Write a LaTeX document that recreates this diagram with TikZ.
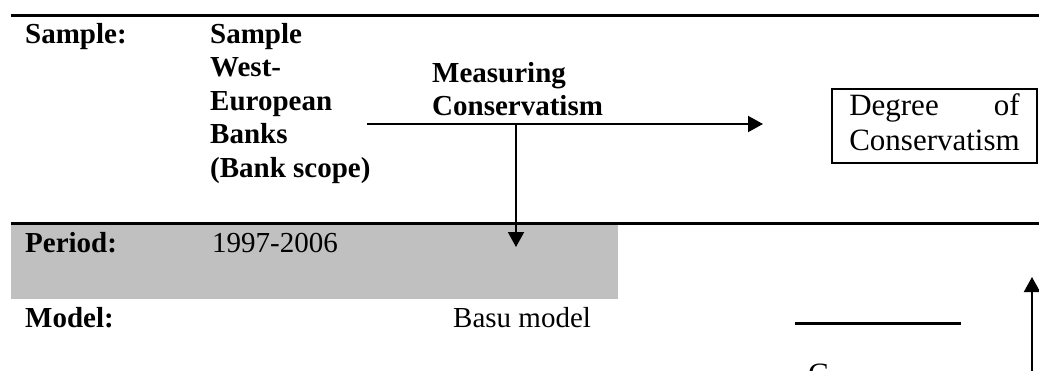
\documentclass[tikz,border=0pt]{standalone}
\usepackage{fontspec}
\setmainfont{Liberation Serif}
\usetikzlibrary{arrows.meta}
\definecolor{bandgray}{RGB}{192,192,192}
\begin{document}
\begin{tikzpicture}[x=1pt,y=-1pt,
  txt/.style={anchor=base west,inner sep=0pt,font=\fontsize{29}{33.5}\selectfont},
  btxt/.style={anchor=base west,inner sep=0pt,font=\fontsize{29}{33.5}\selectfont\bfseries},
  rulerline/.style={line width=3pt},
  conn/.style={line width=2pt,-{Triangle[length=15pt,width=16pt]}},
  boxnode/.style={draw,line width=2pt,inner sep=0pt,minimum width=205pt,minimum height=74pt,
    font=\fontsize{31}{35}\selectfont}]
\clip (0,0) rectangle (1039,370);
\fill[white] (0,0) rectangle (1039,370);
% shaded band
\fill[bandgray] (11,224.5) rectangle (618,299);
% rules
\coordinate (t1) at (11,15); \coordinate (t2) at (1039,15);
\coordinate (m1) at (11,223); \coordinate (m2) at (1039,223);
\draw[rulerline] (t1) -- (t2);
\draw[rulerline] (m1) -- (m2);
% texts
\node[btxt] (samplelab) at (25,43) {Sample:};
\node[btxt] (s1) at (210,43) {Sample};
\node[btxt] (s2) at (210,76.5) {West-};
\node[btxt] (s3) at (210,110) {European};
\node[btxt] (s4) at (210,143.5) {Banks};
\node[btxt] (s5) at (210,177) {(Bank scope)};
\node[btxt] (meas1) at (432,82) {Measuring};
\node[btxt] (meas2) at (432,115) {Conservatism};
\node[boxnode] (deg) at (934.5,126) {\begin{tabular}{@{}l@{}}Degree\hfill of\\Conservatism\end{tabular}};
\node[btxt] (periodlab) at (25,252) {Period:};
\node[txt] (period) at (212,252) {1997-2006};
\node[btxt] (modellab) at (25,327) {Model:};
\node[txt] (model) at (453,327) {Basu model};
\node[txt,font=\fontsize{31}{35}\selectfont] (cpart) at (808,384) {C};
% connectors
\coordinate (hs) at (367,124); \coordinate (he) at (763,124);
\coordinate (vs) at (516,124); \coordinate (ve) at (516,247);
\coordinate (us) at (1032,375); \coordinate (ue) at (1032,277);
\coordinate (la) at (795,323); \coordinate (lb) at (961,323);
\draw[conn] (hs) -- (he);
\draw[conn] (vs) -- (ve);
\draw[conn] (us) -- (ue);
\draw[rulerline] (la) -- (lb);
\end{tikzpicture}
\end{document}
